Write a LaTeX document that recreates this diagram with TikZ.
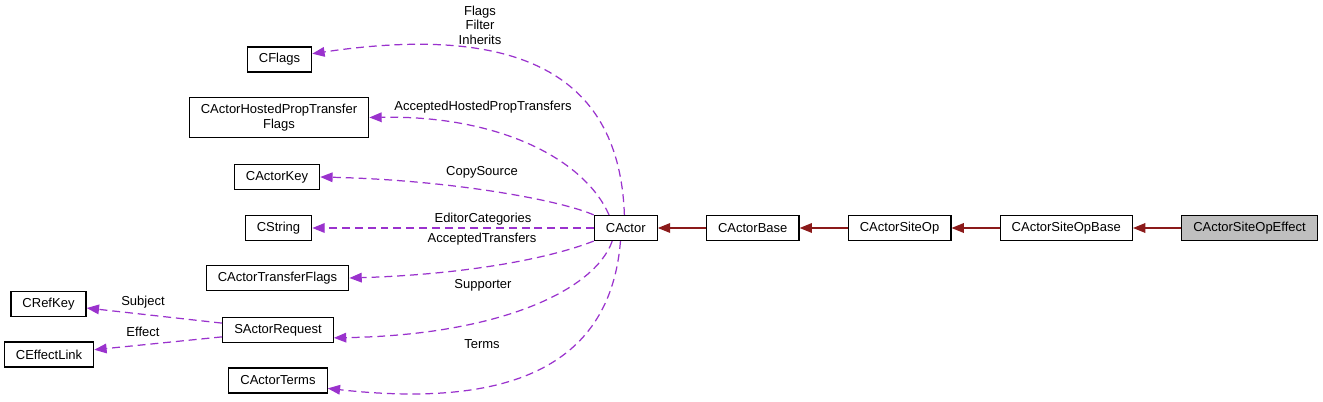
\documentclass[tikz,border=0pt]{standalone}
\usepackage{fontspec}
\setmainfont{Liberation Sans}
\usetikzlibrary{arrows.meta,positioning}

\definecolor{memberedge}{HTML}{9A32CD}
\definecolor{inheritedge}{HTML}{8B1A1A}
\definecolor{focusfill}{HTML}{BFBFBF}

\tikzset{
  cls/.style={draw=black,line width=0.7pt,inner xsep=6.6pt,inner ysep=0pt,
    minimum height=14.2pt,align=center,font=\fontsize{7.4}{8.5}\selectfont},
  member/.style={->,draw=memberedge,line width=0.7pt,dash pattern=on 4.5pt off 2.8pt},
  inherit/.style={->,draw=inheritedge,line width=0.7pt},
  lbl/.style={inner sep=0pt,align=center,font=\fontsize{7.4}{8.2}\selectfont},
}

\begin{document}
\begin{tikzpicture}
            [x=0.02cm,y=-0.02cm,>={Triangle[length=7pt,width=5.5pt]},node distance=0.96cm]

            \useasboundingbox (0,0) rectangle (1323,402);

            \node (effect) [cls,fill=focusfill] at (1249.5,228) {CActorSiteOpEffect};
            \node (siteopbase) [cls,left=of effect] {CActorSiteOpBase};
            \node (siteop) [cls,left=of siteopbase] {CActorSiteOp};
            \node (actorbase) [cls,left=of siteop] {CActorBase};
            \node (cactor) [cls,left=of actorbase] {CActor};

            \node (cflags) [cls] at (279.5,59.5) {CFlags};
            \node (hosted) [cls,minimum height=22.7pt] at (279,117.5) {CActorHostedPropTransfer\\Flags};
            \node (actorkey) [cls] at (277,177) {CActorKey};
            \node (cstring) [cls] at (278.5,228) {CString};
            \node (transfer) [cls] at (277.5,278) {CActorTransferFlags};
            \node (request) [cls] at (278,330) {SActorRequest};
            \node (terms) [cls] at (278,380.5) {CActorTerms};
            \node (refkey) [cls] at (48.5,304) {CRefKey};
            \node (effectlink) [cls] at (49,354.5) {CEffectLink};

            \draw[inherit] (effect) -- (siteopbase);
            \draw[inherit] (siteopbase) -- (siteop);
            \draw[inherit] (siteop) -- (actorbase);
            \draw[inherit] (actorbase) -- (cactor);

            \draw[member] (cactor.96) .. controls (620,90) and (540,20) .. (cflags.10);
            \draw[member] (cactor.142) .. controls (585,160) and (500,115) .. (hosted.east);
            \draw[member] (cactor.north west) .. controls (560,200) and (450,180) .. (actorkey.east);
            \draw[member] (cactor.west) -- (cstring.east);
            \draw[member] (cactor.south west) .. controls (540,262) and (450,275) .. (transfer.east);
            \draw[member] (cactor.224) .. controls (595,290) and (500,335) .. (request.352);
            \draw[member] (cactor.248) .. controls (612,345) and (540,412) .. (terms.351);
            \draw[member] (request.173) -- (refkey.354);
            \draw[member] (request.187) -- (effectlink.6);

            \node (lflags) [lbl] at (480,25) {Flags\\Filter\\Inherits};
            \node (lhosted) [lbl] at (483,107) {AcceptedHostedPropTransfers};
            \node (lcopy) [lbl] at (482,172) {CopySource};
            \node (leditor) [lbl] at (483,219) {EditorCategories};
            \node (ltransfer) [lbl] at (482,239) {AcceptedTransfers};
            \node (lsupporter) [lbl] at (483,285) {Supporter};
            \node (lterms) [lbl] at (482,344) {Terms};
            \node (lsubject) [lbl] at (143,302) {Subject};
            \node (leffect) [lbl] at (143,332) {Effect};
        \end{tikzpicture}
\end{document}
